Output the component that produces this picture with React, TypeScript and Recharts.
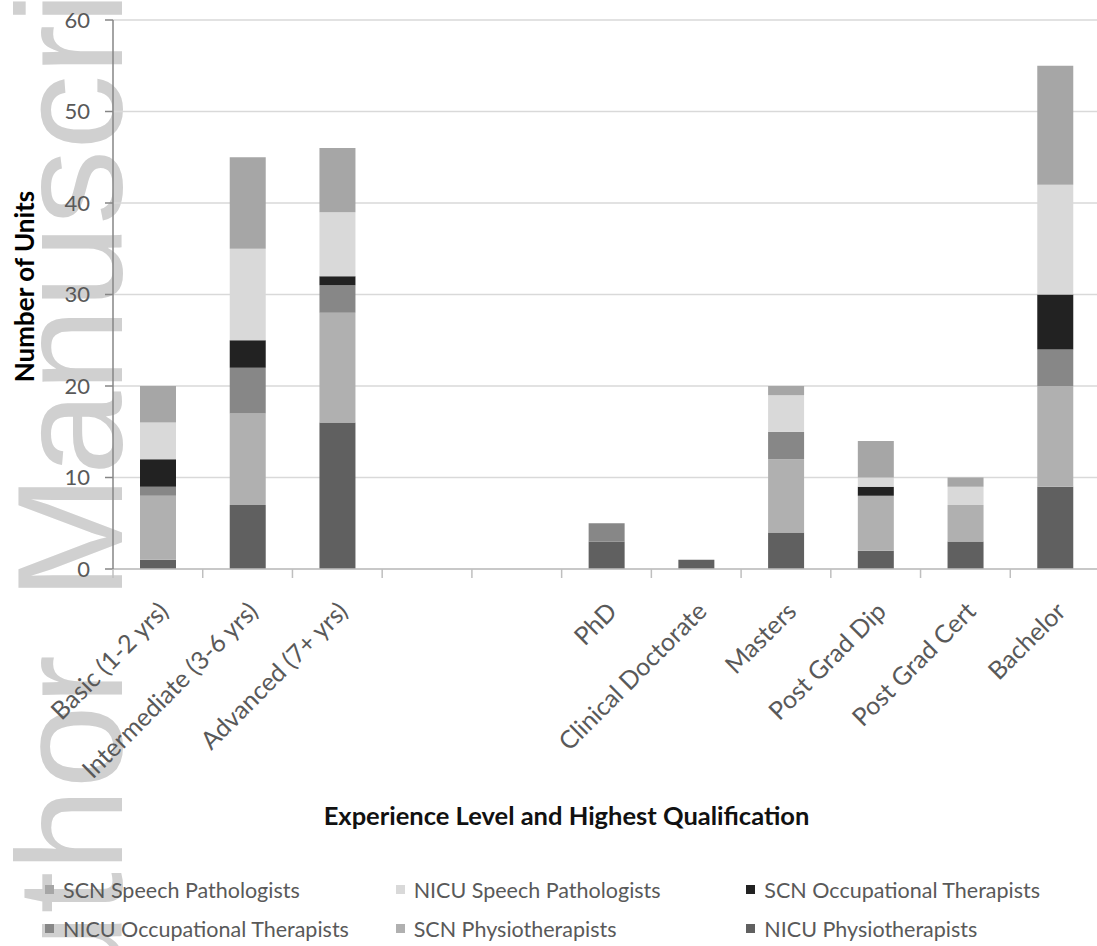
import React from 'react';
import { BarChart, Bar, XAxis, YAxis, CartesianGrid, Legend, Label } from 'recharts';

const categories = [
  'Basic (1-2 yrs)',
  'Intermediate (3-6 yrs)',
  'Advanced (7+ yrs)',
  '',
  ' ',
  'PhD',
  'Clinical Doctorate',
  'Masters',
  'Post Grad Dip',
  'Post Grad Cert',
  'Bachelor',
];

const nicuPhysio = [1, 7, 16, 0, 0, 3, 1, 4, 2, 3, 9];
const scnPhysio = [7, 10, 12, 0, 0, 0, 0, 8, 6, 4, 11];
const nicuOT = [1, 5, 3, 0, 0, 2, 0, 3, 0, 0, 4];
const scnOT = [3, 3, 1, 0, 0, 0, 0, 0, 1, 0, 6];
const nicuSpeech = [4, 10, 7, 0, 0, 0, 0, 4, 1, 2, 12];
const scnSpeech = [4, 10, 7, 0, 0, 0, 0, 1, 4, 1, 13];

const yTicks = [0, 10, 20, 30, 40, 50, 60];

const series = [
  { key: 'nicuPhysio', name: 'NICU Physiotherapists', color: '#606060', values: nicuPhysio },
  { key: 'scnPhysio', name: 'SCN Physiotherapists', color: '#b0b0b0', values: scnPhysio },
  { key: 'nicuOT', name: 'NICU Occupational Therapists', color: '#878787', values: nicuOT },
  { key: 'scnOT', name: 'SCN Occupational Therapists', color: '#222222', values: scnOT },
  { key: 'nicuSpeech', name: 'NICU Speech Pathologists', color: '#d9d9d9', values: nicuSpeech },
  { key: 'scnSpeech', name: 'SCN Speech Pathologists', color: '#a6a6a6', values: scnSpeech },
];

// legend reads row by row: top of the stack first
const legendOrder = [
  'SCN Speech Pathologists',
  'NICU Speech Pathologists',
  'SCN Occupational Therapists',
  'NICU Occupational Therapists',
  'SCN Physiotherapists',
  'NICU Physiotherapists',
];

const data = categories.map((c, i) => {
  const row: any = { category: c };
  series.forEach((s) => {
    row[s.key] = s.values[i];
  });
  return row;
});

const FONT = 'Lato, "Open Sans", sans-serif';
const TEXT_COLOR = '#595959';

const XTick = (props: any) => {
  const { x, y, payload, width, visibleTicksCount } = props;
  let half = payload && payload.offset ? payload.offset : 0;
  if (!half && width && visibleTicksCount) half = width / visibleTicksCount / 2;
  const bx = x - half;
  const tx = x + 12;
  const ty = y + 44;
  return (
    <g>
      <line x1={bx} x2={bx} y1={y} y2={y + 9} stroke="#bfbfbf" strokeWidth={1.5} />
      <text
        x={tx}
        y={ty}
        transform={`rotate(-45, ${tx}, ${ty})`}
        textAnchor="end"
        fontSize={25}
        fontFamily={FONT}
        fill={TEXT_COLOR}
      >
        {payload.value}
      </text>
    </g>
  );
};

const renderLegend = (props: any) => {
  const payload = props.payload || [];
  const ordered = legendOrder
    .map((n) => payload.find((p: any) => p.value === n))
    .filter(Boolean);
  const rows = [ordered.slice(0, 3), ordered.slice(3, 6)];
  return (
    <div style={{ width: 1097, fontFamily: FONT }}>
      {rows.map((row: any[], ri: number) => (
        <div key={ri} style={{ display: 'flex', height: 39, alignItems: 'center', paddingLeft: 45 }}>
          {row.map((item: any) => (
            <div key={item.value} style={{ width: 357, display: 'flex', alignItems: 'center' }}>
              <span
                style={{
                  display: 'inline-block',
                  width: 9,
                  height: 9,
                  background: item.color,
                  marginRight: 9,
                }}
              />
              <span style={{ fontSize: 21.5, color: TEXT_COLOR, lineHeight: '24px' }}>{item.value}</span>
            </div>
          ))}
        </div>
      ))}
    </div>
  );
};

const YTitle = (p: any) => {
  const vb = p.viewBox || { x: 0, y: 0, width: 0, height: 0 };
  const cx = vb.x + 34;
  const cy = vb.y + vb.height / 2 - 8;
  return (
    <text
      x={cx}
      y={cy}
      transform={`rotate(-90, ${cx}, ${cy})`}
      textAnchor="middle"
      fontSize={26}
      fontWeight="bold"
      fontFamily={FONT}
      fill="#000"
    >
      Number of Units
    </text>
  );
};

const XTitle = (p: any) => {
  const vb = p.viewBox || { x: 0, y: 0, width: 0, height: 0 };
  const cx = vb.x + vb.width / 2 - 40;
  const cy = vb.y + 256;
  return (
    <text x={cx} y={cy} textAnchor="middle" fontSize={25.5} fontWeight="bold" fontFamily={FONT} fill="#111">
      Experience Level and Highest Qualification
    </text>
  );
};

export default function App() {
  return (
    <div
      style={{
        position: 'fixed',
        left: 0,
        top: 0,
        width: 1097,
        height: 946,
        overflow: 'hidden',
        background: '#fff',
      }}
    >
      <svg width={1097} height={946} style={{ position: 'absolute', left: 0, top: 0 }}>
        <g fontFamily='"Liberation Sans", Arial, sans-serif' fontSize={150} fill="#d0d0d0">
          <text x={122} y={655} transform="rotate(-90, 122, 655)" textAnchor="end">
            Author
          </text>
          <text x={122} y={600} transform="rotate(-90, 122, 600)" textAnchor="start">
            Manuscript
          </text>
        </g>
      </svg>
      <div style={{ position: 'absolute', left: 0, top: 0 }}>
        <BarChart
          width={1110}
          height={946}
          data={data}
          margin={{ top: 20, right: 10, bottom: 0, left: 0 }}
          barSize={36}
        >
          <CartesianGrid vertical={false} stroke="#d9d9d9" strokeWidth={1.5} />
          <XAxis
            dataKey="category"
            height={377}
            interval={0}
            tickLine={false}
            tickSize={0}
            tickMargin={0}
            axisLine={{ stroke: '#bfbfbf', strokeWidth: 1.5 }}
            tick={<XTick />}
          >
            <Label content={<XTitle />} />
          </XAxis>
          <YAxis
            width={113}
            domain={[0, 60]}
            ticks={yTicks}
            interval={0}
            tickSize={8}
            tickMargin={15}
            axisLine={{ stroke: '#868686', strokeWidth: 1.5 }}
            tickLine={{ stroke: '#868686', strokeWidth: 1.5 }}
            tick={{ fill: TEXT_COLOR, fontSize: 22, fontFamily: FONT }}
          >
            <Label content={<YTitle />} />
          </YAxis>
          <Legend
            layout="horizontal"
            verticalAlign="middle"
            align="center"
            content={renderLegend}
            wrapperStyle={{ top: 870, left: 0, width: 1097 }}
          />
          {series.map((s) => (
            <Bar
              key={s.key}
              dataKey={s.key}
              name={s.name}
              stackId="a"
              fill={s.color}
              isAnimationActive={false}
            />
          ))}
        </BarChart>
      </div>
    </div>
  );
}
